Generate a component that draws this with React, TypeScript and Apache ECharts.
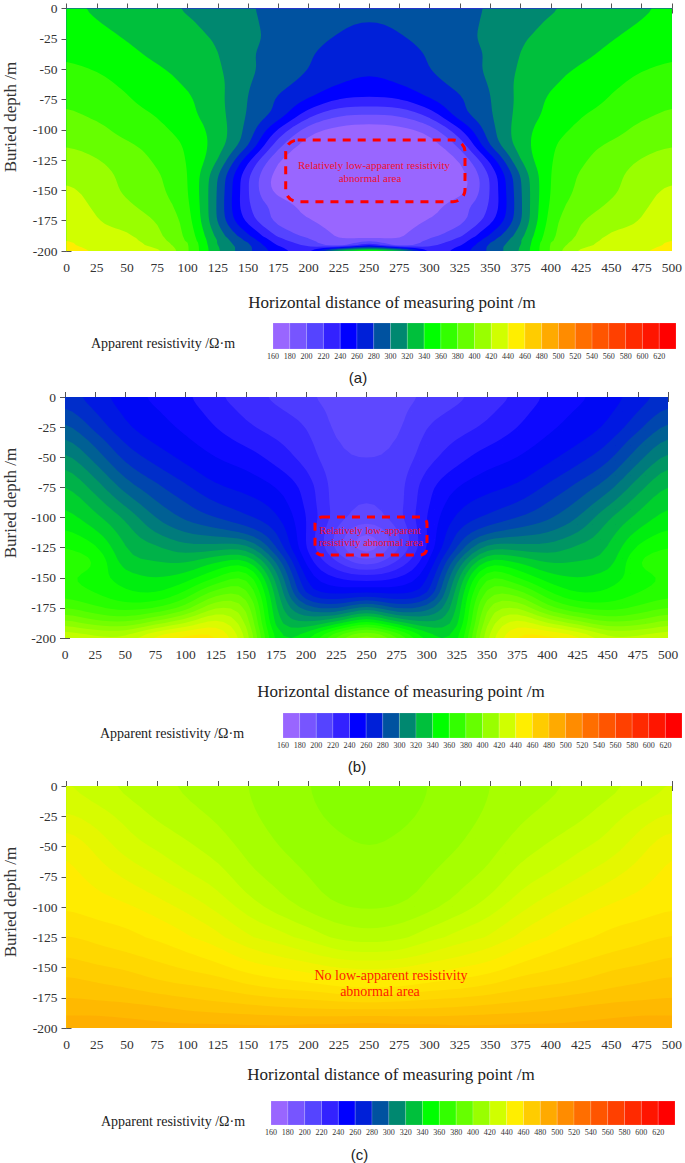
import React, { useEffect, useRef } from "react";
import * as echarts from "echarts";

const SERIF = "Liberation Serif";
const xTicks = [0, 25, 50, 75, 100, 125, 150, 175, 200, 225, 250, 275, 300, 325, 350, 375, 400, 425, 450, 475, 500];
const palette = ["#9966FF", "#7755FF", "#5544FF", "#3322FF", "#0000FF", "#0020D8", "#0052A0", "#008870", "#00C03C", "#00FF00", "#33FF00", "#66FF00", "#99FF00", "#D0FF00", "#FFEE00", "#FFCC00", "#FFAA00", "#FF8C00", "#FF6E00", "#FF5500", "#FF4000", "#FF2A00", "#FF1500", "#FF0000"];
const barStarts = [160, 180, 200, 220, 240, 260, 280, 300, 320, 340, 360, 380, 400, 420, 440, 460, 480, 500, 520, 540, 560, 580, 600, 620];

const depthA = [0, -12.5, -25, -37.5, -50, -62.5, -75, -87.5, -100, -112.5, -125, -137.5, -150, -162.5, -175, -187.5, -195, -200];
const rowsA = [
  [344, 337, 331, 325, 318, 309, 301, 297, 294, 290, 288, 290, 294, 297, 301, 309, 318, 325, 331, 337, 344],
  [349, 341, 335, 329, 323, 313, 303, 295, 289, 283, 278, 283, 289, 295, 303, 313, 323, 329, 335, 341, 349],
  [352, 346, 339, 333, 326, 318, 305, 294, 286, 278, 274, 278, 286, 294, 305, 318, 326, 333, 339, 346, 352],
  [358, 351, 344, 336, 329, 321, 303, 291, 282, 272, 268, 272, 282, 291, 303, 321, 329, 336, 344, 351, 358],
  [363, 359, 350, 342, 334, 323, 304, 290, 280, 269, 263, 269, 280, 290, 304, 323, 334, 342, 350, 359, 363],
  [371, 366, 356, 347, 338, 326, 301, 286, 273, 260, 254, 260, 273, 286, 301, 326, 338, 347, 356, 366, 371],
  [377, 372, 362, 351, 343, 326, 299, 277, 259, 240, 237, 240, 259, 277, 299, 326, 343, 351, 362, 372, 377],
  [383, 376, 367, 359, 345, 328, 297, 273, 228, 203, 200, 203, 228, 273, 297, 328, 345, 359, 367, 376, 383],
  [391, 386, 372, 365, 351, 331, 293, 238, 188, 174, 170, 174, 188, 238, 293, 331, 351, 365, 372, 386, 391],
  [399, 393, 383, 372, 357, 330, 284, 205, 170, 165, 165, 165, 170, 205, 284, 330, 357, 372, 383, 393, 399],
  [408, 401, 390, 377, 359, 322, 245, 180, 164, 163, 163, 163, 164, 180, 245, 322, 359, 377, 390, 401, 408],
  [415, 408, 394, 382, 362, 302, 222, 170, 163, 163, 163, 163, 163, 170, 222, 302, 362, 382, 394, 408, 415],
  [424, 412, 396, 384, 363, 298, 220, 170, 163, 163, 163, 163, 163, 170, 220, 298, 363, 384, 396, 412, 424],
  [430, 416, 403, 390, 366, 297, 220, 193, 172, 165, 163, 165, 172, 193, 220, 297, 366, 390, 403, 416, 430],
  [437, 421, 410, 399, 371, 297, 232, 192, 182, 170, 165, 170, 182, 192, 232, 297, 371, 399, 410, 421, 437],
  [440, 428, 424, 404, 376, 312, 265, 215, 195, 178, 168, 178, 195, 215, 265, 312, 376, 404, 424, 428, 440],
  [442, 434, 428, 412, 381, 320, 283, 238, 215, 195, 232, 195, 215, 238, 283, 320, 381, 412, 428, 434, 442],
  [445, 438, 431, 423, 382, 323, 285, 250, 235, 325, 352, 325, 235, 250, 285, 323, 382, 423, 431, 438, 445],
];

const depthB = [0, -12.5, -25, -37.5, -50, -62.5, -75, -87.5, -100, -112.5, -125, -137.5, -150, -162.5, -175, -187.5, -200];
const colsB = [
  [275, 283, 293, 303, 313, 323, 331, 338, 344, 352, 360, 366, 362, 366, 380, 405, 430],
  [265, 270, 277, 287, 296, 306, 316, 325, 333, 342, 352, 360, 355, 360, 372, 395, 425],
  [255, 258, 262, 269, 277, 286, 296, 307, 318, 325, 330, 335, 345, 352, 366, 392, 425],
  [248, 251, 254, 259, 266, 274, 283, 291, 300, 310, 322, 331, 340, 350, 370, 405, 445],
  [242, 245, 248, 252, 257, 264, 272, 280, 288, 300, 314, 330, 345, 362, 385, 420, 455],
  [232, 236, 240, 245, 250, 255, 262, 270, 280, 295, 315, 340, 360, 385, 410, 435, 452],
  [225, 228, 232, 238, 245, 251, 257, 264, 272, 288, 315, 345, 370, 385, 400, 410, 420],
  [218, 222, 226, 231, 236, 243, 250, 256, 262, 270, 280, 300, 315, 325, 330, 335, 345],
  [212, 216, 220, 223, 226, 231, 236, 238, 240, 240, 240, 248, 258, 268, 295, 322, 348],
  [206, 207, 208, 210, 212, 214, 215, 215, 215, 208, 208, 222, 240, 258, 288, 335, 385],
  [204, 205, 208, 209, 210, 211, 212, 210, 205, 190, 183, 205, 235, 260, 305, 355, 410],
  [206, 207, 208, 210, 212, 214, 215, 215, 215, 208, 208, 222, 240, 258, 288, 335, 385],
  [212, 216, 220, 223, 226, 231, 236, 238, 240, 240, 240, 248, 258, 268, 295, 322, 348],
  [218, 222, 226, 231, 236, 243, 250, 256, 262, 270, 280, 300, 315, 325, 330, 335, 345],
  [225, 228, 232, 238, 245, 251, 257, 264, 272, 288, 315, 345, 370, 385, 400, 410, 420],
  [232, 236, 240, 245, 250, 255, 262, 270, 280, 295, 315, 340, 360, 385, 410, 435, 452],
  [242, 245, 248, 252, 257, 264, 272, 280, 288, 300, 314, 330, 345, 362, 385, 420, 455],
  [248, 251, 254, 259, 266, 274, 283, 291, 300, 310, 322, 331, 340, 350, 370, 405, 445],
  [255, 258, 262, 269, 277, 286, 296, 307, 318, 325, 330, 335, 345, 352, 366, 392, 425],
  [265, 270, 277, 287, 296, 306, 316, 325, 333, 342, 352, 360, 355, 360, 372, 395, 425],
  [275, 283, 293, 303, 313, 323, 331, 338, 344, 352, 360, 366, 362, 366, 380, 405, 430],
];

const depthC = [0, -25, -50, -75, -100, -125, -137.5, -150, -162.5, -175, -187.5, -200];
const colsC = [
  [430, 437, 447, 450, 453, 461, 465, 469, 474, 478, 483, 488],
  [426, 433, 440, 446, 451, 458, 462, 467, 472, 477, 483, 488],
  [422, 428, 433, 441, 449, 456, 460, 465, 470, 476, 482, 487],
  [419, 423, 429, 436, 445, 453, 457, 462, 467, 474, 481, 486],
  [417, 420, 425, 431, 440, 449, 454, 459, 465, 472, 479, 486],
  [414, 417, 421, 427, 434, 444, 450, 456, 463, 470, 478, 486],
  [412, 413, 416, 420, 427, 437, 444, 451, 459, 468, 477, 486],
  [409, 410, 412, 416, 421, 433, 440, 448, 456, 466, 476, 486],
  [406, 407, 409, 412, 416, 428, 436, 445, 454, 465, 475, 487],
  [404, 405, 407, 409, 412, 423, 431, 442, 451, 463, 475, 487],
  [403, 404, 406, 408, 411, 421, 430, 441, 450, 462, 475, 488],
  [404, 405, 407, 409, 412, 423, 431, 442, 451, 463, 475, 487],
  [406, 407, 409, 412, 416, 428, 436, 445, 454, 465, 475, 487],
  [409, 410, 412, 416, 421, 433, 440, 448, 456, 466, 476, 486],
  [412, 413, 416, 420, 427, 437, 444, 451, 459, 468, 477, 486],
  [414, 417, 421, 427, 434, 444, 450, 456, 463, 470, 478, 486],
  [417, 420, 425, 431, 440, 449, 454, 459, 465, 472, 479, 486],
  [419, 423, 429, 436, 445, 453, 457, 462, 467, 474, 481, 486],
  [422, 428, 433, 441, 449, 456, 460, 465, 470, 476, 482, 487],
  [426, 433, 440, 446, 451, 458, 462, 467, 472, 477, 483, 488],
  [430, 437, 447, 450, 453, 461, 465, 469, 474, 478, 483, 488],
];

const hex = (c: string) => [parseInt(c.slice(1, 3), 16), parseInt(c.slice(3, 5), 16), parseInt(c.slice(5, 7), 16)];

function colorOf(v: number) {
  const t = Math.max(0, Math.min(palette.length - 1, (v - 170) / 20));
  const i = Math.min(palette.length - 2, Math.floor(t));
  const a = hex(palette[i]);
  const b = hex(palette[i + 1]);
  const f = t - i;
  return `rgb(${Math.round(a[0] + (b[0] - a[0]) * f)},${Math.round(a[1] + (b[1] - a[1]) * f)},${Math.round(a[2] + (b[2] - a[2]) * f)})`;
}

type P = [number, number, number];
function clipAbove(poly: P[], level: number): P[] {
  const out: P[] = [];
  for (let i = 0; i < poly.length; i++) {
    const p = poly[i];
    const q = poly[(i + 1) % poly.length];
    const pIn = p[2] >= level;
    const qIn = q[2] >= level;
    if (pIn) out.push(p);
    if (pIn !== qIn) {
      const f = (level - p[2]) / (q[2] - p[2]);
      out.push([p[0] + (q[0] - p[0]) * f, p[1] + (q[1] - p[1]) * f, level]);
    }
  }
  return out;
}

// Drawing aid for the contour lines: the sampled field is resampled on a finer mesh
// and lightly smoothed, so that the isolines are curved as in a contour plot.
const SUB = 4;
function cr(a: number, b: number, c: number, d: number, t: number) {
  return 0.5 * (2 * b + (c - a) * t + (2 * a - 5 * b + 4 * c - d) * t * t + (3 * b - a - 3 * c + d) * t * t * t);
}
function fineAxis(v: number[]) {
  const out: number[] = [];
  for (let i = 0; i < v.length - 1; i++) for (let s = 0; s < SUB; s++) out.push(v[i] + ((v[i + 1] - v[i]) * s) / SUB);
  out.push(v[v.length - 1]);
  return out;
}
function fineLine(v: number[]) {
  const out: number[] = [];
  const n = v.length;
  for (let i = 0; i < n - 1; i++) {
    const a = v[Math.max(0, i - 1)];
    const d = v[Math.min(n - 1, i + 2)];
    for (let s = 0; s < SUB; s++) out.push(cr(a, v[i], v[i + 1], d, s / SUB));
  }
  out.push(v[n - 1]);
  return out;
}
function fineField(cols: number[][]) {
  const byCol = cols.map(fineLine);
  const h = byCol[0].length;
  const rows: number[][] = [];
  for (let j = 0; j < h; j++) rows.push(fineLine(byCol.map((c) => c[j])));
  return rows; // rows[j][i]
}
function soften(rows: number[][], passes: number, fy: number[], keepBelow: number) {
  let cur = rows;
  const h = rows.length;
  const w = rows[0].length;
  for (let n = 0; n < passes; n++) {
    const next = cur.map((r) => r.slice());
    for (let j = 0; j < h; j++) {
      for (let i = 0; i < w; i++) {
        const up = cur[Math.max(0, j - 1)][i];
        const dn = cur[Math.min(h - 1, j + 1)][i];
        const lf = cur[j][Math.max(0, i - 1)];
        const rt = cur[j][Math.min(w - 1, i + 1)];
        next[j][i] = (4 * cur[j][i] + up + dn + lf + rt) / 8;
      }
    }
    cur = next;
  }
  return cur.map((r, j) => (fy[j] < keepBelow ? rows[j] : r));
}

function contourSeries(cols: number[][], depth: number[], step: number, passes: number, keepBelow: number, axisX: number, axisY: number) {
  const fx = fineAxis(xTicks);
  const fy = fineAxis(depth);
  const field = soften(fineField(cols), passes, fy, keepBelow);
  let lo = Infinity;
  let hi = -Infinity;
  field.forEach((r) => r.forEach((v) => { lo = Math.min(lo, v); hi = Math.max(hi, v); }));
  const levels: number[] = [];
  for (let L = 160 + Math.floor((lo - 160) / step) * step; L < hi; L += step) levels.push(L);
  return {
    type: "custom",
    xAxisIndex: axisX,
    yAxisIndex: axisY,
    silent: true,
    clip: true,
    data: levels.map((L) => [L]),
    renderItem: (params: any, api: any) => {
      const L = api.value(0);
      const parts: string[] = [];
      const poly = (pts: number[][]) => {
        const s = pts.map((p) => { const c = api.coord(p); return c[0].toFixed(2) + " " + c[1].toFixed(2); });
        parts.push("M" + s.join("L") + "Z");
      };
      const isBase = L === levels[0];
      for (let j = 0; j < fy.length - 1; j++) {
        let runStart = -1;
        for (let i = 0; i < fx.length - 1; i++) {
          const q: P[] = [
            [fx[i], fy[j], field[j][i]],
            [fx[i + 1], fy[j], field[j][i + 1]],
            [fx[i + 1], fy[j + 1], field[j + 1][i + 1]],
            [fx[i], fy[j + 1], field[j + 1][i]],
          ];
          const all = isBase || q.every((p) => p[2] >= L);
          if (all) {
            if (runStart < 0) runStart = i;
          } else {
            if (runStart >= 0) {
              poly([[fx[runStart], fy[j]], [fx[i], fy[j]], [fx[i], fy[j + 1]], [fx[runStart], fy[j + 1]]]);
              runStart = -1;
            }
            const c = clipAbove(q, L);
            if (c.length >= 3) poly(c.map((p) => [p[0], p[1]]));
          }
        }
        if (runStart >= 0) {
          const e = fx.length - 1;
          poly([[fx[runStart], fy[j]], [fx[e], fy[j]], [fx[e], fy[j + 1]], [fx[runStart], fy[j + 1]]]);
        }
      }
      const fill = step === 20 ? palette[Math.max(0, Math.min(23, Math.floor((L - 160) / 20)))] : colorOf(L + step / 2);
      return { type: "path", shape: { pathData: parts.join("") }, style: { fill } };
    },
  };
}

const toCols = (rows: number[][]) => xTicks.map((_, i) => rows.map((r) => r[i]));

const plots = [
  { left: 66.5, top: 8.5, width: 607.5, height: 242.5, cols: toCols(rowsA), depth: depthA, step: 20, passes: 6, keepBelow: -192 },
  { left: 65, top: 397, width: 603, height: 241, cols: colsB, depth: depthB, step: 10, passes: 4, keepBelow: -999 },
  { left: 66.5, top: 786, width: 607.5, height: 242, cols: colsC, depth: depthC, step: 6, passes: 6, keepBelow: -999 },
];
const bars = [
  { left: 273, top: 323, width: 403, height: 26 },
  { left: 283, top: 713, width: 401, height: 25 },
  { left: 271, top: 1101, width: 404, height: 24 },
];

const txt = (text: string, x: number, y: number, size: number, extra: any = {}) => ({
  type: "text",
  x,
  y,
  z: 20,
  style: { text, fontFamily: SERIF, fontSize: size, fill: "#222", align: "center", verticalAlign: "middle", ...extra },
});
const yName = (x: number, y: number) => ({
  type: "text",
  x,
  y,
  rotation: Math.PI / 2,
  z: 20,
  style: { text: "Buried depth /m", fontFamily: SERIF, fontSize: 17, fill: "#333", align: "center", verticalAlign: "middle" },
});
const dash = (x: number, y: number, w: number, h: number, r: number) => ({
  type: "rect",
  z: 15,
  shape: { x, y, width: w, height: h, r },
  style: { fill: "none", stroke: "#FF0000", lineWidth: 3, lineDash: [8, 7] },
});

const RED = "#F01030";
const graphics = [
  yName(10, 117), yName(10, 503), yName(10, 902),
  txt("Horizontal distance of measuring point /m", 392, 302, 17),
  txt("Horizontal distance of measuring point /m", 401, 691, 17),
  txt("Horizontal distance of measuring point /m", 391, 1074, 17),
  txt("Apparent resistivity /Ω·m", 163, 343, 14),
  txt("Apparent resistivity /Ω·m", 172, 733, 14),
  txt("Apparent resistivity /Ω·m", 173, 1121, 14),
  txt("(a)", 358, 377, 15, { fontFamily: "Liberation Sans" }),
  txt("(b)", 357, 766, 15, { fontFamily: "Liberation Sans" }),
  txt("(c)", 359.5, 1154, 15, { fontFamily: "Liberation Sans" }),
  dash(285.7, 140, 179.3, 61.7, 12),
  txt("Relatively low-apparent resistivity", 374, 165, 11, { fill: RED }),
  txt("abnormal area", 370, 178, 11, { fill: RED }),
  dash(315, 517, 112, 38, 7),
  txt("Relatively low-apparent", 370, 530, 10.5, { fill: RED }),
  txt("resistivity abnormal area", 371, 542, 10.5, { fill: RED }),
  txt("No low-apparent resistivity", 391, 975, 14, { fill: "#FF2000" }),
  txt("abnormal area", 380, 991, 14, { fill: "#FF2000" }),
];

export default function App() {
  const ref = useRef<HTMLDivElement>(null);
  useEffect(() => {
    document.body.style.margin = "0";
    const chart = echarts.init(ref.current!, undefined, { renderer: "svg" });
    const grid: any[] = [];
    const xAxis: any[] = [];
    const yAxis: any[] = [];
    const series: any[] = [];
    const line = { show: true, lineStyle: { color: "#555", width: 1 } };
    plots.forEach((p) => {
      grid.push({ left: p.left, top: p.top, width: p.width, height: p.height });
      const gi = grid.length - 1;
      const xCommon = { type: "value", gridIndex: gi, min: 0, max: 500, interval: 25, splitLine: { show: false }, axisLine: line, axisTick: { length: 5, lineStyle: { color: "#555" } } };
      const yCommon = { type: "value", gridIndex: gi, min: -200, max: 0, interval: 25, splitLine: { show: false }, axisLine: line, axisTick: { length: 5, lineStyle: { color: "#555" } } };
      xAxis.push({ ...xCommon, position: "bottom", axisLabel: { fontFamily: SERIF, fontSize: 13.5, color: "#333", margin: 9, showMinLabel: true, showMaxLabel: true, hideOverlap: false } });
      xAxis.push({ ...xCommon, position: "top", axisLabel: { show: false } });
      yAxis.push({ ...yCommon, position: "left", axisLabel: { fontFamily: SERIF, fontSize: 13.5, color: "#333", margin: 9 } });
      yAxis.push({ ...yCommon, position: "right", axisLabel: { show: false } });
      series.push(contourSeries(p.cols, p.depth, p.step, p.passes, p.keepBelow, xAxis.length - 2, yAxis.length - 2));
    });
    bars.forEach((b) => {
      grid.push({ left: b.left, top: b.top, width: b.width, height: b.height });
      const gi = grid.length - 1;
      xAxis.push({
        type: "value", gridIndex: gi, min: 160, max: 640, interval: 20,
        splitLine: { show: false }, axisLine: { show: false }, axisTick: { show: false },
        axisLabel: { fontFamily: SERIF, fontSize: 8, color: "#333", margin: 3, formatter: (v: number) => (v >= 640 ? "" : String(v)), hideOverlap: false },
      });
      yAxis.push({ type: "value", gridIndex: gi, min: 0, max: 1, show: false });
      series.push({
        type: "custom",
        xAxisIndex: xAxis.length - 1,
        yAxisIndex: yAxis.length - 1,
        silent: true,
        data: barStarts.map((s, i) => [s, i]),
        renderItem: (params: any, api: any) => {
          const s = api.value(0);
          const a = api.coord([s, 1]);
          const c = api.coord([s + 20, 0]);
          return {
            type: "rect",
            shape: { x: a[0], y: a[1], width: c[0] - a[0], height: c[1] - a[1] },
            style: { fill: palette[api.value(1)], stroke: "rgba(255,255,255,0.3)", lineWidth: 0.5 },
          };
        },
      });
    });
    chart.setOption({ animation: false, backgroundColor: "#fff", grid, xAxis, yAxis, series, graphic: graphics });
    return () => chart.dispose();
  }, []);
  return <div ref={ref} style={{ width: 685, height: 1163 }} />;
}
